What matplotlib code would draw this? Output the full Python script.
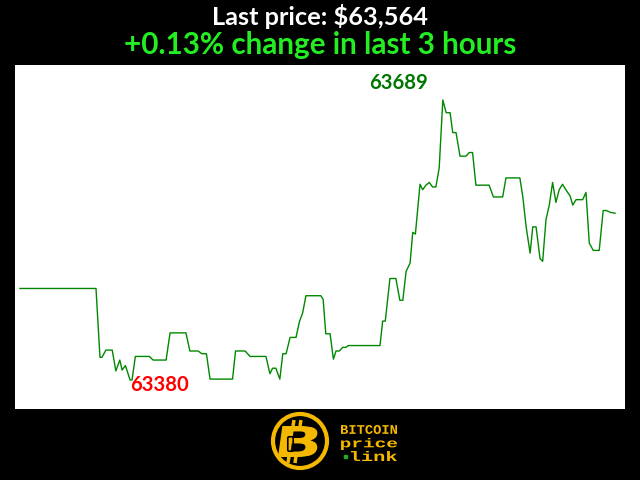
import matplotlib
matplotlib.use("Agg")
import matplotlib.pyplot as plt
import matplotlib.patches as patches
from matplotlib.textpath import TextPath
from matplotlib.font_manager import FontProperties
from matplotlib.transforms import Affine2D

# Prezzi (minuti dall'inizio della finestra di 3 ore)
minutes = [0.0, 23.0, 24.2, 24.8, 26.0, 27.9, 29.0, 30.2, 30.9, 31.9, 33.3, 33.9,
           34.9, 39.1, 40.3, 44.2, 45.4, 50.2, 51.4, 53.9, 55.0, 56.4, 57.5, 64.3,
           65.2, 68.1, 69.6, 74.4, 75.6, 76.4, 77.4, 78.6, 79.5, 80.5, 81.7, 83.5,
           84.5, 85.5, 86.5, 91.0, 91.7, 92.5, 93.8, 94.8, 95.6, 96.6, 97.6, 98.6,
           99.3, 108.9, 109.7, 110.5, 111.9, 113.7, 114.9, 115.8, 116.8, 118.0, 118.8,
           119.6, 121.0, 121.8, 122.8, 123.8, 124.8, 125.8, 126.8, 127.9, 128.9, 130.1,
           130.9, 131.9, 133.1, 134.9, 135.9, 136.9, 137.9, 141.9, 143.2, 146.0, 147.0,
           151.2, 152.1, 153.1, 154.3, 155.1, 156.1, 157.3, 158.1, 159.1, 160.1, 161.1,
           162.1, 163.1, 164.1, 165.1, 166.4, 167.2, 168.2, 170.2, 171.2, 172.2, 173.4,
           175.2, 176.4, 177.4, 178.6, 180.0]
prices = [63481, 63481, 63405, 63405, 63413, 63413, 63390, 63402, 63391, 63396, 63380, 63380,
          63406, 63406, 63402, 63402, 63432, 63432, 63412, 63412, 63409, 63409, 63381, 63381,
          63412, 63412, 63406, 63406, 63387, 63393, 63393, 63381, 63409, 63409, 63427, 63427,
          63444, 63454, 63473, 63473, 63469, 63431, 63431, 63403, 63412, 63412, 63416, 63416,
          63418, 63418, 63445, 63445, 63492, 63492, 63468, 63468, 63500, 63509, 63543,
          63541, 63596, 63590, 63595, 63598, 63593, 63593, 63614, 63689, 63675, 63675,
          63653, 63653, 63627, 63627, 63631, 63631, 63595, 63595, 63582, 63582, 63603,
          63603, 63582, 63549, 63520, 63549, 63549, 63514, 63511, 63557, 63573, 63598,
          63576, 63590, 63596, 63590, 63583, 63573, 63579, 63579, 63587, 63531, 63523,
          63523, 63567, 63567, 63565, 63564]

title_text = "Last price: $63,564"
change_text = "+0.13% change in last 3 hours"
logo_lines = ["BITCOIN", "price", "link"]


# Disegna un testo stirato dentro un rettangolo (coordinate in pixel, y verso l'alto)
def fitted_text(ax, s, x0, y0, w, h, color, family, weight="bold", skew=0):
    tp = TextPath((0, 0), s, size=20, prop=FontProperties(family=family, weight=weight))
    bb = tp.get_extents()
    tr = (Affine2D().translate(-bb.x0, -bb.y0).scale(w / bb.width, h / bb.height)
          .skew_deg(skew, 0).translate(x0, y0))
    ax.add_patch(patches.PathPatch(tr.transform_path(tp), facecolor=color, lw=0))


fig = plt.figure(figsize=(6.4, 4.8), dpi=100, facecolor="black")

# Titoli
fig.text(0.5, 0.966, title_text, color="white", fontsize=18.3, fontweight="bold",
         family="Lato", ha="center", va="center")
fig.text(0.5, 0.907, change_text, color="#22ee22", fontsize=21.3, fontweight="bold",
         family="Lato", ha="center", va="center")

# Area del grafico
ax = fig.add_axes([15 / 640, 71 / 480, 610 / 640, 344 / 480])
ax.set_facecolor("white")
ax.plot(minutes, prices, color="#008800", linewidth=1)
ax.set_xlim(-1.5, 183)
ax.set_ylim(63348, 63727.6)
ax.set_xticks([])
ax.set_yticks([])
for s in ax.spines.values():
    s.set_visible(False)

# Etichette massimo e minimo
i_max = prices.index(max(prices))
i_min = prices.index(min(prices))
ax.annotate(str(max(prices)), (minutes[i_max], prices[i_max]), xytext=(-10.5, 5),
            textcoords="offset points", ha="right", va="bottom", color="#007700",
            fontsize=14.6, fontweight="bold", family="Lato")
ax.annotate(str(min(prices)), (minutes[i_min], prices[i_min]), xytext=(0, -3.5),
            textcoords="offset points", ha="left", va="center", color="red",
            fontsize=14.6, fontweight="bold", family="Lato")

# Logo in basso (pixel, y dal basso della figura)
logo = fig.add_axes([0, 0, 1, 71 / 480])
logo.set_xlim(0, 640)
logo.set_ylim(0, 71)
logo.axis("off")
gold = "#f5b800"
logo.add_patch(patches.Circle((300, 480 - 441), 27, fill=False, edgecolor=gold, linewidth=3))
# code del simbolo bitcoin
for xt in (293, 300):
    logo.plot([xt, xt + 1], [480 - 426, 480 - 420], color=gold, lw=2.5, solid_capstyle="butt")
for xt in (288, 295):
    logo.plot([xt, xt + 1], [480 - 463, 480 - 456], color=gold, lw=2.5, solid_capstyle="butt")
fitted_text(logo, "B", 278, 480 - 457, 38, 31, gold, "DejaVu Sans", "heavy", skew=8)
logo.add_patch(patches.FancyBboxPatch((289, 480 - 450), 3, 12, boxstyle="round,pad=1.2",
                                      fill=False, edgecolor="black", linewidth=1.2))
fitted_text(logo, logo_lines[0], 341, 480 - 434, 56, 9, gold, "Liberation Mono")
fitted_text(logo, logo_lines[1], 341, 480 - 450, 56, 12, gold, "Liberation Mono")
fitted_text(logo, logo_lines[2], 351, 480 - 461, 46, 10, gold, "Liberation Mono")
logo.add_patch(patches.Rectangle((344, 480 - 458), 3, 3, color="#22aa22"))

fig.savefig("out.png", dpi=100, facecolor="black")
